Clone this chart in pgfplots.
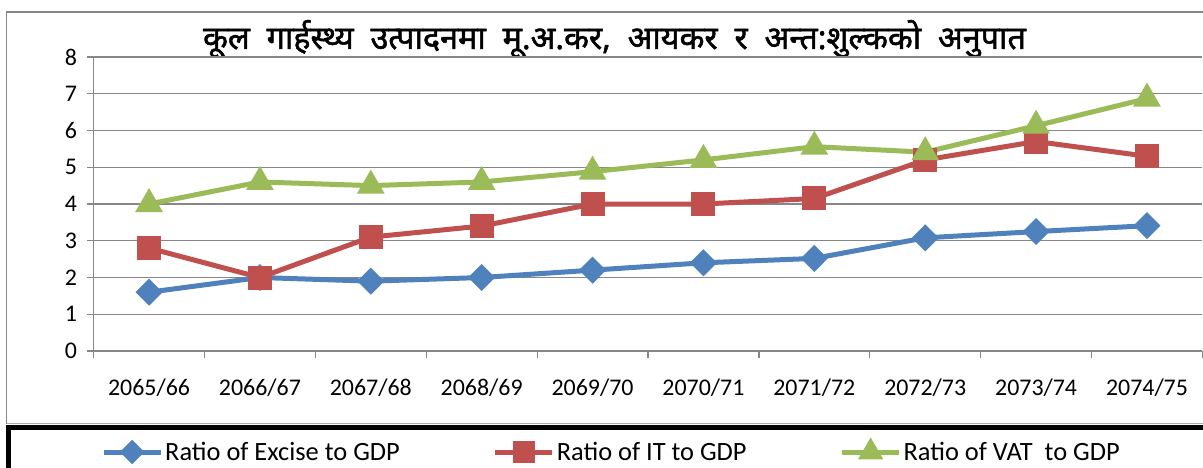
\documentclass[border=0pt]{standalone}
\usepackage{pgfplots}
\pgfplotsset{compat=1.18}
\usepackage{fontspec}
\setmainfont{Carlito}
\newfontfamily\devfont[Script=Devanagari, FakeBold=1.5, WordSpace=2]{Noto Sans}
\definecolor{cBlue}{HTML}{4F81BD}
\definecolor{cRed}{HTML}{C0504D}
\definecolor{cGreen}{HTML}{9BBB59}
\definecolor{cGrid}{HTML}{878787}
\begin{document}
\begin{tikzpicture}
\useasboundingbox (0bp,0bp) rectangle (1203bp,468bp);
\clip (0bp,0bp) rectangle (1203bp,468bp);
\draw[cGrid, line width=1.2bp] (6.5bp,44bp) -- (6.5bp,456bp) -- (1220bp,456bp);
\draw[cGrid!70, line width=1bp] (7bp,44.5bp) -- (1220bp,44.5bp);
\draw[black, line width=5bp] (8.5bp,-20bp) -- (8.5bp,40.5bp) -- (1220bp,40.5bp);
\node[font=\devfont\fontsize{32.5}{38}\selectfont, anchor=base] at (614.5bp,419bp)
  {कूल गार्हस्थ्य उत्पादनमा मू.अ.कर, आयकर र अन्त:शुल्कको अनुपात};
\begin{axis}[
  at={(93.6bp,117bp)}, anchor=south west,
  scale only axis, width=1108.8bp, height=294bp,
  xmin=-0.5, xmax=9.5, ymin=0, ymax=8,
  ytick={0,...,8}, xtick={0,...,9},
  xticklabels={2065/66,2066/67,2067/68,2068/69,2069/70,2070/71,2071/72,2072/73,2073/74,2074/75},
  minor xtick={-0.5,0.5,...,9.5},
  axis x line*=bottom, axis y line*=left,
  axis line style={cGrid, line width=1.2bp, -},
  ymajorgrids, grid style={cGrid, line width=1.2bp},
  tick align=outside,
  major tick length=6.5bp, minor tick length=6.5bp,
  major x tick style={draw=none},
  minor x tick style={cGrid, line width=1.2bp},
  ytick style={cGrid, line width=1.2bp},
  /pgf/number format/assume math mode=true,
  ticklabel style={font=\fontsize{24}{28}\selectfont, text=black},
  xticklabel style={anchor=base, yshift=-38bp},
  yticklabel style={xshift=-6.5bp},
  clip=false,
  legend columns=3,
  legend style={draw=none, fill=none, at={(0,0)}, anchor=west, xshift=7.4bp, yshift=-101bp,
    font=\fontsize{26.5}{30}\selectfont, inner sep=0pt,
    nodes={inner sep=2bp},
    /tikz/every even column/.append style={column sep=91bp}},
  legend image code/.code={
    \draw[mark repeat=2,mark phase=2,#1, every mark/.append style={scale=0.87}]
      plot coordinates {(0bp,0bp) (28.5bp,0bp) (57bp,0bp)};},
]
\addplot[cBlue, line width=5bp, mark=diamond*, mark size=10bp,
  mark options={solid, xscale=1.33}]
  coordinates {(0,1.6) (1,2.0) (2,1.9) (3,2.0) (4,2.2) (5,2.4) (6,2.52) (7,3.08) (8,3.25) (9,3.41)};
\addlegendentry{Ratio of Excise to GDP}
\addplot[cRed, line width=5bp, mark=square*, mark size=9.5bp, mark options={solid}]
  coordinates {(0,2.8) (1,2.0) (2,3.1) (3,3.4) (4,4.0) (5,4.0) (6,4.15) (7,5.2) (8,5.7) (9,5.3)};
\addlegendentry{Ratio of IT to GDP}
\addplot[cGreen, line width=5bp, mark=triangle*, mark size=11bp, mark options={solid}]
  coordinates {(0,4.0) (1,4.6) (2,4.5) (3,4.6) (4,4.88) (5,5.2) (6,5.56) (7,5.41) (8,6.13) (9,6.87)};
\addlegendentry{Ratio of VAT\ \ to GDP}
\end{axis}
\end{tikzpicture}
\end{document}
